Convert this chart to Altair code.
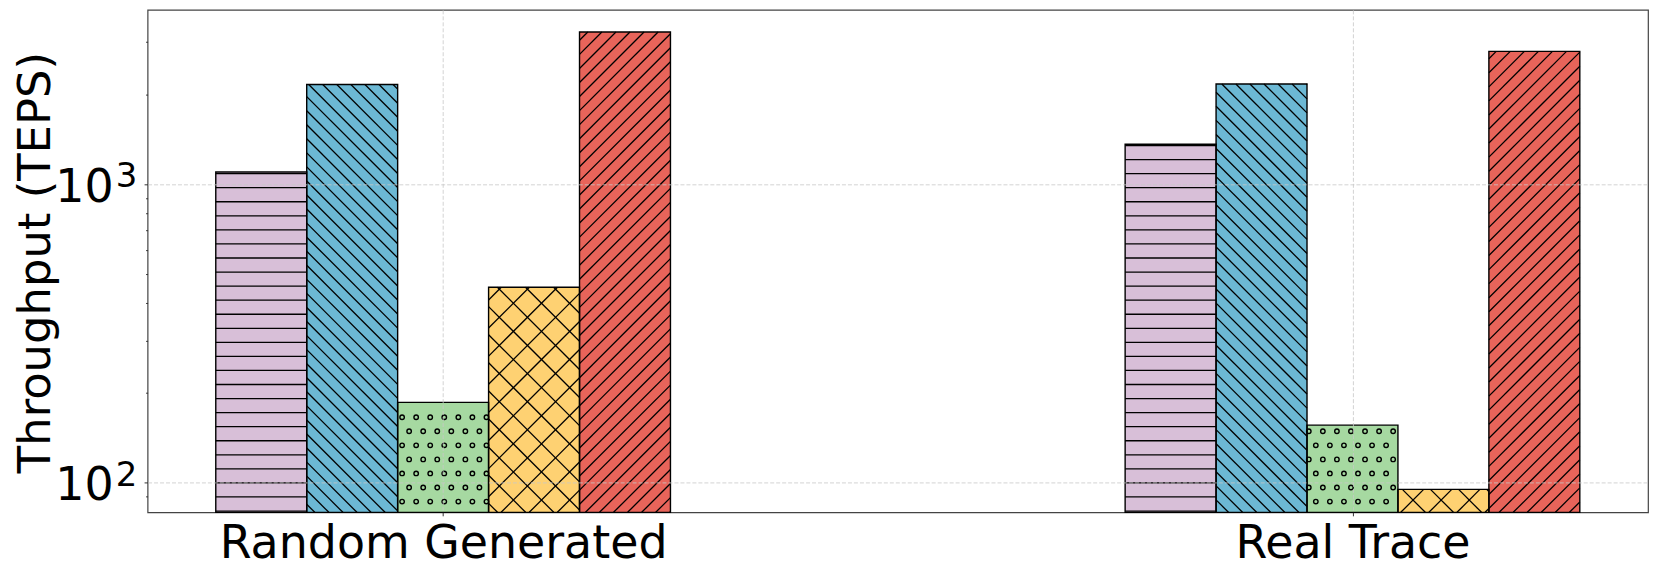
import json
import math
import altair as alt
import pandas as pd

# ---------------- data ----------------
groups = ["Random Generated", "Real Trace"]
series = ["Method A", "Method B", "Method C", "Method D", "Method E"]
random_generated = [1100, 2160, 186, 452, 3240]
real_trace = [1362, 2170, 156, 95, 2790]
y_labelled_ticks = [100, 1000]
y_minor_ticks = [90, 200, 300, 400, 500, 600, 700, 800, 900, 2000, 3000]

# ---------------- styles ----------------
colors = ["#D8BFD8", "#6CB8D4", "#A6D9A1", "#FED172", "#E8645A"]
hatches = ["-", "\\\\", "o", "x", "//"]

BAR_W = 0.1
X_DOMAIN = [-0.325, 1.325]
Y_DOMAIN = [79.6, 3844]
W, H = 1505, 504
FONT = "DejaVu Sans"

rows = []
for gi, (g, vals) in enumerate(zip(groups, [random_generated, real_trace])):
    for si, (s, v) in enumerate(zip(series, vals)):
        x0 = gi + (si - 2) * BAR_W - BAR_W / 2
        rows.append(dict(group=g, series=s, value=v, x0=x0, x1=x0 + BAR_W,
                         base=Y_DOMAIN[0], hatch=hatches[si]))
bars = pd.DataFrame(rows)

# ---- helpers: convert between data and view pixels (for hatch decoration) ----
L0, L1 = math.log10(Y_DOMAIN[0]), math.log10(Y_DOMAIN[1])


def px_x(x):
    return (x - X_DOMAIN[0]) / (X_DOMAIN[1] - X_DOMAIN[0]) * W


def px_y(y):
    return (L1 - math.log10(y)) / (L1 - L0) * H


def dx(p):
    return X_DOMAIN[0] + p / W * (X_DOMAIN[1] - X_DOMAIN[0])


def dy(p):
    return 10 ** (L1 - p / H * (L1 - L0))


S = 14.1  # hatch spacing in pixels


def hatch_segments(L, R, T, B, kind):
    segs = []
    if kind == "-":
        ph = 164.3
        k = math.ceil((T + 0.5 - ph) / S)
        y = ph + k * S
        while y < B - 0.5:
            segs.append((L, y, R, y))
            y += S
    elif kind in ("//", "\\\\", "x"):
        step = 2 * S if kind == "x" else S
        dirs = []
        if kind in ("//", "x"):
            dirs.append(("ne", 1761.0))
        if kind in ("\\\\", "x"):
            dirs.append(("se", 777.6))
        for d, ph in dirs:
            if d == "ne":
                lo_c, hi_c = L + T, R + B
            else:
                lo_c, hi_c = L - B, R - T
            c = ph + math.ceil((lo_c - ph) / step) * step
            while c <= hi_c:
                if d == "ne":
                    a, b = max(L, c - B), min(R, c - T)
                    if b - a > 0.5:
                        segs.append((a, c - a, b, c - b))
                else:
                    a, b = max(L, c + T), min(R, c + B)
                    if b - a > 0.5:
                        segs.append((a, a - c, b, b - c))
                c += step
    return segs


def hatch_dots(L, R, T, B):
    pts = []
    y0, x0 = 408.6, 255.3
    k = math.ceil((T + 1 - y0) / S)
    while y0 + k * S < B:
        y = y0 + k * S
        xo = x0 + (k % 2) * S / 2
        j = math.ceil((L + 1.5 - xo) / S)
        while xo + j * S < R - 1.5:
            pts.append((xo + j * S, y))
            j += 1
        k += 1
    return pts


seg_rows, dot_rows = [], []
for _, r in bars.iterrows():
    L, R = px_x(r["x0"]), px_x(r["x1"])
    T, B = px_y(r["value"]), H
    if r["hatch"] == "o":
        for (px, py) in hatch_dots(L, R, T, B):
            dot_rows.append(dict(x=dx(px), y=dy(py)))
    else:
        for (a, b, c, d) in hatch_segments(L, R, T, B, r["hatch"]):
            seg_rows.append(dict(x=dx(a), y=dy(b), x2=dx(c), y2=dy(d)))
segs = pd.DataFrame(seg_rows)
dots = pd.DataFrame(dot_rows)

exps = pd.DataFrame({"value": y_labelled_ticks,
                     "exp": [str(round(math.log10(v))) for v in y_labelled_ticks]})

# ---------------- scales & axes ----------------
xscale = alt.Scale(domain=X_DOMAIN, nice=False, zero=False)
yscale = alt.Scale(type="log", domain=Y_DOMAIN, nice=False)

major_test = " || ".join(f"datum.value == {v}" for v in y_labelled_ticks)
yvalues = sorted(y_labelled_ticks + y_minor_ticks)

grid_style = dict(grid=True, gridColor="#c8c8c8", gridDash=[4, 2], gridWidth=0.8)

xaxis = alt.Axis(
    values=[0, 1],
    labelExpr=json.dumps(groups) + "[datum.value]",
    labelFont=FONT, labelFontSize=46, labelColor="black",
    labelPadding=41.5, labelBaseline="alphabetic", labelAngle=0,
    labelOverlap=False, labelFlush=False, labelLimit=0,
    tickSize=3.5, tickColor="#333333", tickWidth=1,
    domain=False, title=None, zindex=1, **grid_style,
)
yaxis = alt.Axis(
    values=yvalues,
    labelExpr=f"({major_test}) ? '10' : ''",
    labelFont=FONT, labelFontSize=46, labelColor="black",
    labelPadding=31, labelBaseline="alphabetic", labelOffset=17,
    labelOverlap=False, labelFlush=False, labelLimit=0,
    tickSize={"condition": {"test": major_test, "value": 3.5}, "value": 2},
    tickColor="#333333", tickWidth=1,
    domain=False,
    gridOpacity={"condition": {"test": major_test, "value": 1}, "value": 0},
    title="Throughput (TEPS)", titleFont=FONT, titleFontSize=45,
    titleFontWeight="normal", titleColor="black", titleAngle=270,
    titleX=-98, titleY=253, titleAlign="center", titleBaseline="alphabetic",
    titleLimit=0, zindex=1, **grid_style,
)


def X(field):
    return alt.X(field, type="quantitative", scale=xscale, axis=xaxis)


def Y(field):
    return alt.Y(field, type="quantitative", scale=yscale, axis=yaxis)


fill = alt.Chart(bars).mark_rect(strokeWidth=0).encode(
    x=X("x0"), x2="x1", y=Y("value"), y2="base",
    color=alt.Color("series:N", scale=alt.Scale(domain=series, range=colors), legend=None),
)
lines = alt.Chart(segs).mark_rule(color="black", strokeWidth=1.3).encode(
    x=X("x"), x2="x2", y=Y("y"), y2="y2",
)
rings = alt.Chart(dots).mark_point(
    shape="circle", filled=False, size=20, color="black", strokeWidth=1.4, opacity=1
).encode(x=X("x"), y=Y("y"))
outline = alt.Chart(bars).mark_rect(fillOpacity=0, stroke="black", strokeWidth=1.4).encode(
    x=X("x0"), x2="x1", y=Y("value"), y2="base",
)
exponent = alt.Chart(exps).mark_text(
    align="left", baseline="alphabetic", font=FONT, fontSize=34, color="black", dy=3
).encode(x=alt.value(-32), y=Y("value"), text="exp:N")

chart = (
    alt.layer(fill, lines, rings, outline, exponent)
    .properties(
        width=W, height=H,
        autosize=alt.AutoSizeParams(type="none"),
        padding={"left": 140, "top": 1, "right": 5, "bottom": 60},
        background="white",
    )
    .configure_view(stroke="#444444", strokeWidth=1.2)
)

chart.save("out.html", embed_options={"renderer": "svg", "actions": False})
